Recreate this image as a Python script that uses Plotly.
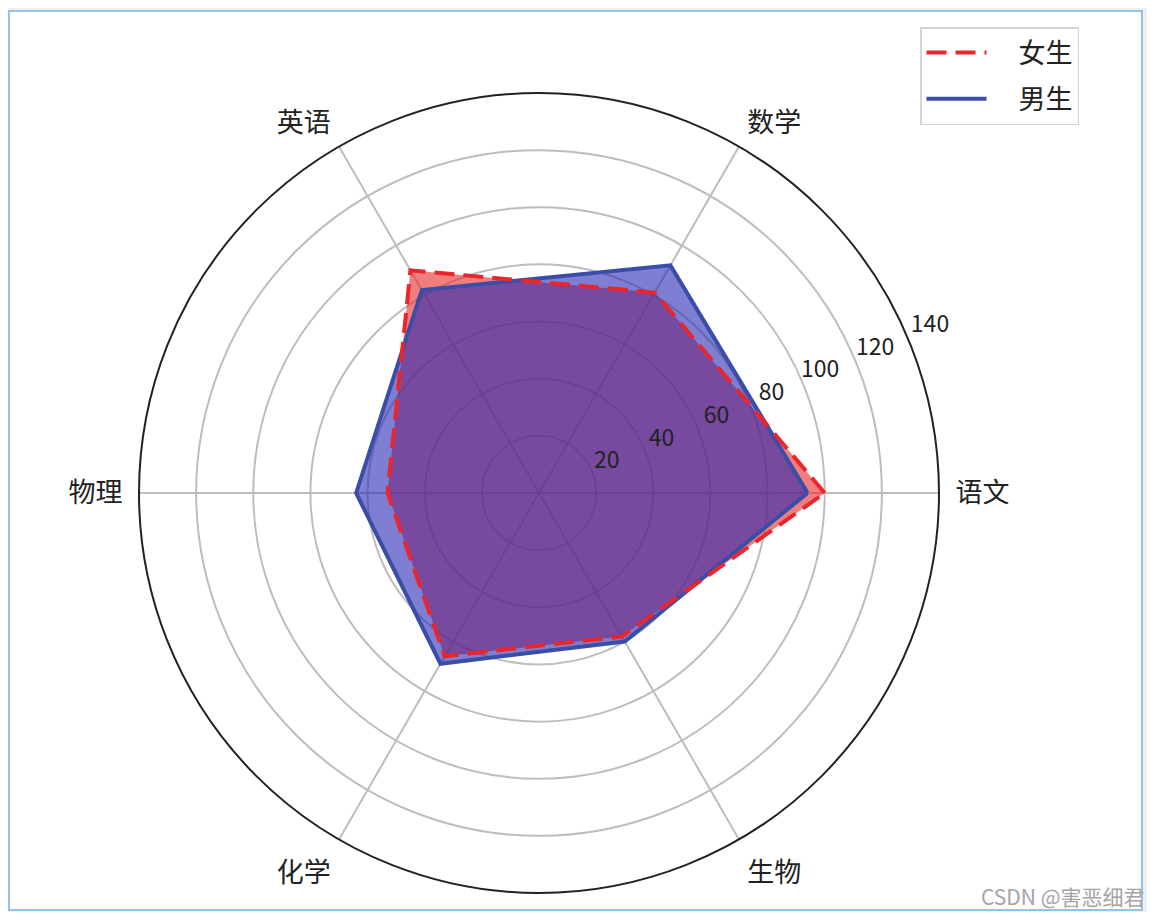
import plotly.graph_objects as go

# 科目 与 两组成绩
subjects = ["语文", "数学", "英语", "物理", "化学", "生物"]
girls = [100, 81, 90, 53, 66, 58]
boys = [94, 92, 82, 64, 69, 60]
r_ticks = [20, 40, 60, 80, 100, 120, 140]

# 闭合多边形
theta = subjects + subjects[:1]
girls_c = girls + girls[:1]
boys_c = boys + boys[:1]

# 页面 body 自带 8px 边距, 所以图整体往左上挪 8px
W, H = 1147, 904
cjk = "Noto Sans CJK SC"


def px(x):
    return x / W


def py(y):
    return (H - y) / H


fig = go.Figure()

# 填充层
fig.add_trace(go.Scatterpolar(
    r=girls_c, theta=theta, mode="lines", fill="toself",
    fillcolor="rgba(232,40,42,0.6)", line=dict(width=0),
    showlegend=False, hoverinfo="skip",
))
fig.add_trace(go.Scatterpolar(
    r=boys_c, theta=theta, mode="lines", fill="toself",
    fillcolor="rgba(40,40,180,0.6)", line=dict(width=0),
    showlegend=False, hoverinfo="skip",
))

# 线条层
fig.add_trace(go.Scatterpolar(
    r=boys_c, theta=theta, mode="lines", name="\u2003男生",
    line=dict(color="#3a4ea8", width=4), legendrank=2, legendgroup="b",
))
fig.add_trace(go.Scatterpolar(
    r=girls_c, theta=theta, mode="lines", name="\u2003女生",
    line=dict(color="#e8262b", width=4, dash="20px,9px"), legendrank=1,
    legendgroup="g",
))

# 只用来摆半径刻度文字的透明极坐标 (matplotlib 式的标签位置)
fig.add_trace(go.Scatterpolar(
    r=[], theta=[], subplot="polar2", showlegend=False, hoverinfo="skip",
))

# polar2 圆心沿 22.5° 方向外移, 让数字落在刻度线外侧
c2x, c2y, R2 = 562.8, 487.0, 416.4

fig.update_layout(
    width=W, height=H,
    margin=dict(l=0, r=0, t=0, b=0),
    paper_bgcolor="#f0f0f0",
    font=dict(family=cjk, size=23, color="#222222"),
    polar=dict(
        domain=dict(x=[px(131), px(931)], y=[py(885), py(85)]),
        bgcolor="white",
        radialaxis=dict(
            range=[0, 140], tickvals=r_ticks, showticklabels=False,
            showline=False, ticks="", gridcolor="#bdbdbd", gridwidth=1.5,
        ),
        angularaxis=dict(
            direction="counterclockwise", rotation=0,
            showline=True, linecolor="#222222", linewidth=2,
            ticks="outside", ticklen=10, tickcolor="rgba(0,0,0,0)",
            gridcolor="#bdbdbd", gridwidth=1.5,
            tickfont=dict(family=cjk, size=27, color="#222222"),
        ),
    ),
    polar2=dict(
        domain=dict(x=[px(c2x - R2), px(c2x + R2)],
                    y=[max(py(c2y + R2), 0), py(c2y - R2)]),
        bgcolor="rgba(0,0,0,0)",
        radialaxis=dict(
            range=[0, 140], tickvals=r_ticks, angle=22.5, tickangle=22.5,
            side="counterclockwise", showgrid=False, showline=False,
            ticks="", tickfont=dict(family=cjk, size=23, color="#222222"),
        ),
        angularaxis=dict(visible=False, showgrid=False),
    ),
    legend=dict(
        x=px(912), y=py(19), xanchor="left", yanchor="top",
        bgcolor="white", bordercolor="#d4d4d4", borderwidth=1.5,
        font=dict(family=cjk, size=27, color="#222222"),
        itemwidth=60, traceorder="grouped", tracegroupgap=8,
    ),
    shapes=[dict(
        type="rect", xref="paper", yref="paper", layer="below",
        x0=px(1), x1=px(1134), y0=py(902), y1=py(3),
        fillcolor="white", line=dict(color="#8fc3ea", width=2),
    )],
    annotations=[dict(
        text="CSDN @害恶细君", xref="paper", yref="paper",
        x=px(1139), y=py(888), xanchor="right", yanchor="middle",
        showarrow=False, font=dict(family=cjk, size=21, color="#a4a4a4"),
    )],
)

fig.write_html("out.html")
